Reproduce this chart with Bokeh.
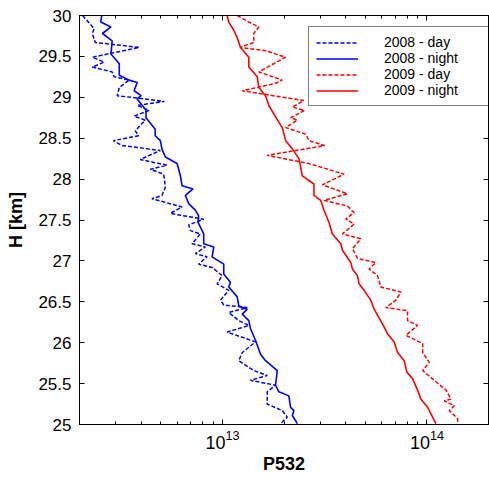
from bokeh.plotting import figure
from bokeh.models import Range1d, FixedTicker, LogAxis, LinearAxis, Legend, LegendItem
from bokeh.embed import file_html
from bokeh.resources import INLINE

# ---------------- data ----------------
H_2008_NIGHT = [30.00, 29.92, 29.86, 29.78, 29.69, 29.53, 29.41, 29.27, 29.21, 29.18, 29.08, 29.02, 28.98,
                28.90, 28.84, 28.75, 28.61, 28.53, 28.47, 28.37, 28.27, 28.19, 28.04, 27.92, 27.88, 27.80,
                27.70, 27.62, 27.55, 27.47, 27.33, 27.21, 27.17, 27.05, 26.96, 26.84, 26.74, 26.68, 26.56,
                26.45, 26.41, 26.35, 26.27, 26.17, 26.03, 25.86, 25.78, 25.66, 25.48, 25.40, 25.35, 25.21,
                25.17, 25.11, 25.01]
P_2008_NIGHT = [2.57e12, 2.54e12, 2.85e12, 2.59e12, 2.89e12, 2.85e12, 3.13e12, 3.13e12, 3.50e12, 3.83e12,
                3.70e12, 4.00e12, 3.83e12, 4.06e12, 4.23e12, 4.23e12, 4.69e12, 4.69e12, 4.97e12, 5.06e12,
                5.26e12, 6.00e12, 6.23e12, 6.35e12, 7.18e12, 6.59e12, 6.84e12, 7.37e12, 7.65e12, 7.60e12,
                8.10e12, 8.10e12, 9.07e12, 8.90e12, 1.015e13, 1.015e13, 1.094e13, 1.074e13, 1.181e13,
                1.202e13, 1.322e13, 1.25e13, 1.346e13, 1.372e13, 1.451e13, 1.536e13, 1.625e13, 1.854e13,
                1.819e13, 1.888e13, 2.113e13, 2.154e13, 2.237e13, 2.197e13, 2.324e13]

H_2008_DAY = [30.00, 29.84, 29.78, 29.67, 29.61, 29.49, 29.43, 29.37, 29.31, 29.25, 29.21, 29.12, 29.02,
              28.95, 28.90, 28.84, 28.77, 28.72, 28.59, 28.53, 28.47, 28.41, 28.35, 28.24, 28.17, 28.12,
              28.06, 27.90, 27.80, 27.76, 27.66, 27.58, 27.51, 27.44, 27.37, 27.33, 27.21, 27.17, 27.09,
              27.05, 26.96, 26.92, 26.82, 26.72, 26.64, 26.52, 26.46, 26.43, 26.37, 26.27, 26.21, 26.13,
              26.01, 25.88, 25.78, 25.66, 25.60, 25.54, 25.48, 25.40, 25.25, 25.17, 25.09, 25.01]
P_2008_DAY = [2.07e12, 2.36e12, 2.31e12, 2.39e12, 3.92e12, 2.31e12, 2.64e12, 2.31e12, 2.89e12, 2.96e12,
              3.50e12, 3.13e12, 3.06e12, 5.20e12, 3.83e12, 4.39e12, 3.70e12, 4.19e12, 3.75e12, 3.89e12,
              2.93e12, 3.22e12, 4.97e12, 3.96e12, 5.36e12, 4.44e12, 5.16e12, 5.26e12, 5.06e12, 4.52e12,
              6.35e12, 5.56e12, 8.10e12, 6.84e12, 6.97e12, 7.80e12, 7.10e12, 8.25e12, 7.37e12, 8.41e12,
              7.65e12, 8.90e12, 9.97e12, 9.42e12, 1.074e13, 9.78e12, 1.015e13, 1.322e13, 1.074e13,
              1.202e13, 1.346e13, 1.054e13, 1.451e13, 1.25e13, 1.202e13, 1.423e13, 1.656e13, 1.372e13,
              1.819e13, 1.656e13, 1.656e13, 1.961e13, 2.076e13, 1.924e13]

H_2009_NIGHT = [30.00, 29.92, 29.82, 29.73, 29.61, 29.49, 29.37, 29.25, 29.12, 29.02, 28.90, 28.76, 28.63,
                28.47, 28.37, 28.25, 28.04, 27.94, 27.80, 27.74, 27.62, 27.47, 27.33, 27.21, 27.13, 26.98,
                26.90, 26.82, 26.72, 26.64, 26.52, 26.41, 26.23, 26.11, 26.01, 25.88, 25.78, 25.64, 25.56,
                25.42, 25.31, 25.21, 25.01]
P_2009_NIGHT = [1.054e13, 1.074e13, 1.136e13, 1.181e13, 1.225e13, 1.346e13, 1.346e13, 1.48e13, 1.507e13,
                1.625e13, 1.687e13, 1.819e13, 1.961e13, 2.037e13, 2.197e13, 2.366e13, 2.459e13, 2.803e13,
                2.803e13, 3.023e13, 3.138e13, 3.32e13, 3.45e13, 3.787e13, 3.863e13, 4.242e13, 4.324e13,
                4.574e13, 4.657e13, 4.927e13, 5.314e13, 5.516e13, 6.064e13, 6.417e13, 6.914e13, 7.185e13,
                7.74e13, 7.98e13, 8.51e13, 9.0e13, 9.35e13, 1.008e14, 1.107e14]

H_2009_DAY = [30.00, 29.92, 29.86, 29.78, 29.67, 29.61, 29.57, 29.49, 29.31, 29.21, 29.17, 29.08, 28.96,
              28.88, 28.84, 28.75, 28.72, 28.63, 28.55, 28.47, 28.41, 28.29, 28.19, 28.06, 27.93, 27.82,
              27.74, 27.67, 27.59, 27.51, 27.45, 27.33, 27.27, 27.15, 27.03, 26.98, 26.90, 26.82, 26.68,
              26.62, 26.52, 26.43, 26.39, 26.27, 26.21, 26.09, 25.99, 25.88, 25.76, 25.66, 25.54, 25.42,
              25.31, 25.29, 25.23, 25.17, 25.07, 25.01]
P_2009_DAY = [1.181e13, 1.346e13, 1.507e13, 1.423e13, 1.423e13, 1.225e13, 1.625e13, 2.037e13, 1.507e13,
              1.961e13, 1.819e13, 1.25e13, 2.503e13, 2.197e13, 2.523e13, 2.154e13, 2.324e13, 2.037e13,
              2.552e13, 2.649e13, 3.162e13, 1.656e13, 2.649e13, 3.933e13, 3.082e13, 4.087e13, 3.138e13,
              4.087e13, 4.402e13, 4.008e13, 4.402e13, 3.863e13, 4.748e13, 4.324e13, 4.574e13, 5.623e13,
              5.214e13, 5.733e13, 5.95e13, 7.46e13, 7.05e13, 6.295e13, 8.04e13, 8.04e13, 9.0e13, 7.89e13,
              9.53e13, 9.53e13, 1.026e14, 9.53e13, 1.086e14, 1.239e14, 1.311e14, 1.215e14, 1.361e14,
              1.286e14, 1.414e14, 1.414e14]

SERIES_LABELS = ["2008 - day", "2008 - night", "2009 - day", "2009 - night"]

Y_TICKS = [25, 25.5, 26, 26.5, 27, 27.5, 28, 28.5, 29, 29.5, 30]
Y_TICK_LABELS = ["25", "25.5", "26", "26.5", "27", "27.5", "28", "28.5", "29", "29.5", "30"]
X_MAJOR = [1e13, 1e14]
X_MINOR = [2e12, 3e12, 4e12, 5e12, 6e12, 7e12, 8e12, 9e12,
           2e13, 3e13, 4e13, 5e13, 6e13, 7e13, 8e13, 9e13, 2e14]

# ---------------- figure ----------------
FONT = "Liberation Sans"

p = figure(x_axis_type="log", output_backend="svg", toolbar_location=None,
           frame_width=409, frame_height=409,
           min_border_left=79, min_border_right=1, min_border_top=15, min_border_bottom=55,
           x_range=Range1d(2e12, 2e14), y_range=Range1d(25, 30),
           background_fill_color="white", border_fill_color="white")
p.grid.visible = False
p.outline_line_color = "black"
p.outline_line_width = 1

xt = FixedTicker(ticks=X_MAJOR, minor_ticks=X_MINOR)
yt = FixedTicker(ticks=Y_TICKS, minor_ticks=[])
overrides = {t: l for t, l in zip(Y_TICKS, Y_TICK_LABELS)}


def style_axis(ax):
    ax.axis_line_color = "black"
    ax.axis_line_width = 1
    ax.major_tick_in = 5
    ax.major_tick_out = 0
    ax.minor_tick_in = 3
    ax.minor_tick_out = 0
    ax.major_tick_line_color = "black"
    ax.minor_tick_line_color = "black"
    ax.major_label_text_font = FONT
    ax.major_label_text_font_size = "17px"
    ax.major_label_text_color = "black"
    ax.axis_label_text_font = FONT
    ax.axis_label_text_font_size = "18px"
    ax.axis_label_text_font_style = "bold"
    ax.axis_label_text_color = "black"


xa = p.xaxis[0]
xa.ticker = xt
style_axis(xa)
xa.axis_label = "P532"
xa.major_label_standoff = 5
xa.axis_label_standoff = 2
xa.major_label_text_font_size = "18px"

ya = p.yaxis[0]
ya.ticker = yt
style_axis(ya)
ya.axis_label = "H [km]"
ya.major_label_overrides = overrides
ya.major_label_standoff = 8
ya.axis_label_standoff = 9
ya.minor_tick_line_color = None

top = LogAxis(ticker=xt)
style_axis(top)
top.major_label_text_font_size = "1px"
top.major_label_text_alpha = 0
top.major_label_standoff = 0
p.add_layout(top, "above")

right = LinearAxis(ticker=yt)
style_axis(right)
right.minor_tick_line_color = None
right.major_label_text_font_size = "1px"
right.major_label_text_alpha = 0
right.major_label_standoff = 0
p.add_layout(right, "right")

r1 = p.line(P_2008_DAY, H_2008_DAY, line_color="#0000ff", line_width=1.5, line_dash="4 2")
r2 = p.line(P_2008_NIGHT, H_2008_NIGHT, line_color="#0000ff", line_width=1.6)
r3 = p.line(P_2009_DAY, H_2009_DAY, line_color="#ff0000", line_width=1.5, line_dash="4 2")
r4 = p.line(P_2009_NIGHT, H_2009_NIGHT, line_color="#ff0000", line_width=1.6)

legend = Legend(items=[LegendItem(label=SERIES_LABELS[0], renderers=[r1]),
                       LegendItem(label=SERIES_LABELS[1], renderers=[r2]),
                       LegendItem(label=SERIES_LABELS[2], renderers=[r3]),
                       LegendItem(label=SERIES_LABELS[3], renderers=[r4])],
                location=(229, 318), orientation="vertical",
                padding=7, spacing=0, glyph_width=42, glyph_height=15,
                label_height=15, label_width=101, label_standoff=26, margin=0,
                label_text_font=FONT, label_text_font_size="14px", label_text_color="black",
                border_line_color="black", border_line_width=1,
                background_fill_color="white", background_fill_alpha=1.0)
p.add_layout(legend, "center")

open("out.html", "w").write(file_html(p, INLINE))
